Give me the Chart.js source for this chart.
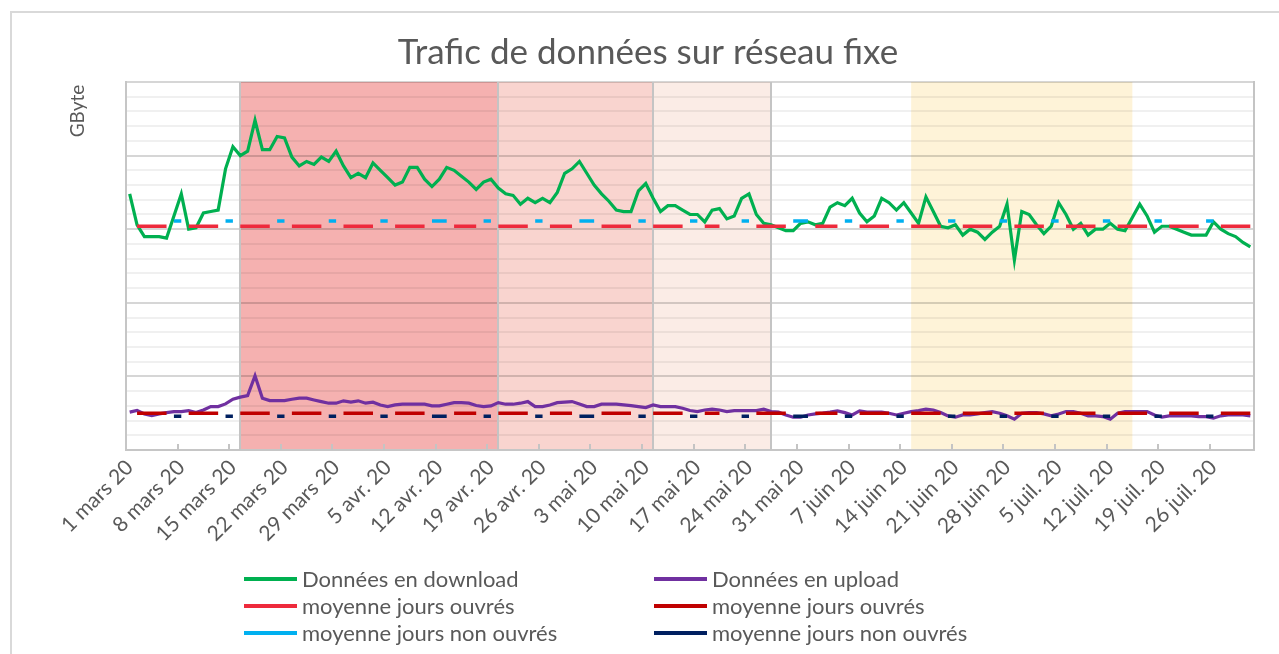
<!DOCTYPE html>
<html lang="fr">
<head>
<meta charset="utf-8">
<title>Trafic de données sur réseau fixe</title>
<script src="https://cdn.jsdelivr.net/npm/chart.js@4.4.0/dist/chart.umd.min.js"></script>
<style>
  html, body { margin: 0; padding: 0; background: #fff; }
</style>
</head>
<body>
<canvas id="chart" width="1279" height="654"></canvas>
<script>
const FONT = 'Lato, "Open Sans", sans-serif';
const TEXT = '#595959';

// months covered, 1 mars -> 31 juil. 2020
const monthNames = ['mars', 'avr.', 'mai', 'juin', 'juil.'];
const monthDays = [31, 30, 31, 30, 31];

// daily traffic (arbitrary units, axis has no labels)
const download = [
  174, 153, 145, 145, 145, 144, 159, 174, 150, 151, 161, 162, 163, 191, 206, 200, 203, 224, 204, 204,
  213, 212, 199, 193, 196, 194, 199, 196, 203, 193, 185, 188, 185, 195, 190, 185, 180, 182, 192, 192,
  184, 179, 184, 192, 190, 186, 182, 177, 182, 184, 178, 174, 173, 167, 171, 168, 171, 168, 175, 188,
  191, 196, 188, 180, 174, 169, 163, 162, 162, 176, 181, 171, 162, 166, 166, 163, 160, 160, 155, 163,
  164, 157, 159, 171, 174, 160, 154, 153, 151, 149, 149, 154, 155, 153, 154, 165, 168, 166, 171, 161,
  155, 159, 171, 168, 163, 168, 161, 154, 172, 162, 152, 151, 153, 146, 150, 148, 143, 148, 152, 167,
  129, 162, 160, 153, 147, 152, 168, 160, 150, 154, 146, 150, 150, 154, 150, 149, 158, 167, 159, 148,
  152, 152, 150, 148, 146, 146, 146, 155, 150, 147, 145, 141, 138
];
const upload = [
  25.7, 26.8, 24.5, 23.4, 24.5, 25.4, 26.1, 26.1, 26.8, 25.4, 27.2, 29.5, 29.5, 31.3, 34.5, 35.9, 37.0, 50.4, 35.2, 33.6,
  33.6, 33.6, 34.5, 35.2, 35.2, 34.0, 32.9, 31.8, 31.8, 33.4, 32.5, 33.4, 31.8, 32.5, 30.6, 29.5, 30.6, 31.1, 31.1, 31.1,
  31.1, 30.0, 30.0, 31.1, 32.2, 32.2, 31.8, 30.2, 29.5, 30.0, 32.2, 31.1, 31.1, 31.8, 32.9, 29.5, 29.5, 30.6, 32.2, 32.5,
  32.9, 31.3, 29.5, 29.5, 31.1, 31.1, 31.1, 30.6, 30.2, 29.5, 28.8, 30.6, 29.5, 29.5, 29.5, 28.4, 26.8, 26.1, 27.2, 27.7,
  27.2, 26.1, 26.8, 26.8, 26.8, 26.8, 27.7, 26.1, 25.7, 23.8, 22.3, 22.3, 23.8, 24.5, 25.0, 25.7, 26.6, 25.4, 23.8, 26.6,
  25.7, 25.7, 25.7, 25.0, 23.8, 25.0, 26.1, 26.8, 27.7, 27.2, 25.4, 23.2, 22.3, 23.8, 23.8, 24.5, 25.4, 26.1, 25.0, 23.2,
  20.9, 25.0, 25.4, 25.4, 24.5, 23.2, 24.5, 26.1, 26.1, 25.0, 23.2, 23.2, 22.7, 20.9, 25.0, 26.1, 26.1, 26.1, 26.1, 23.8,
  22.3, 23.2, 23.2, 23.2, 23.2, 22.7, 22.7, 21.6, 23.2, 23.8, 23.8, 23.8, 23.2
];

// W = jour ouvré, N = jour non ouvré (one week per string, starting on Sunday 1 mars)
const dayType = [
  'NWWWWWN', 'NWWWWWN', 'NWWWWWN', 'NWWWWWN', 'NWWWWWN', 'NWWWWWN', 'NNWWWWN', 'NWWWWWN',
  'NWWWWNN', 'NWWWWWN', 'NWWWWWN', 'NWWWNWN', 'NWWWWWN', 'NNWWWWN', 'NWWWWWN', 'NWWWWWN',
  'NWWWWWN', 'NWWWWWN', 'NWWWWWN', 'NWWWWWN', 'NWWWWWN', 'NWWWWW'
].join('');

const avgDownWork = 152;
const avgDownOff = 155.5;
const avgUpWork = 25;
const avgUpOff = 23;

// shaded periods: [first day index, last day index, colour, border line]
const periods = [
  [15, 50, '#f5b1b0', true],
  [50, 71, '#f9d4cf', true],
  [71, 87, '#fbece6', true],
  [106, 136, '#fef3d8', false]
];

const labels = [];
monthNames.forEach((m, k) => {
  for (let d = 1; d <= monthDays[k]; d++) labels.push(d + ' ' + m + ' 20');
});

const pick = (type, value) => dayType.split('').map(t => (t === type ? value : null));

const legendRows = [[0, 1], [2, 3], [4, 5]];

const framePlugin = {
  id: 'frame',
  beforeDraw(chart) {
    const { ctx, chartArea, scales } = chart;
    ctx.save();
    ctx.fillStyle = '#fff';
    ctx.fillRect(0, 0, chart.width, chart.height);
    ctx.strokeStyle = '#d9d9d9';
    ctx.lineWidth = 2;
    ctx.strokeRect(11, 12, chart.width + 20, chart.height + 20);
    periods.forEach(([a, b, color]) => {
      const x0 = scales.x.getPixelForValue(a);
      const x1 = scales.x.getPixelForValue(b);
      ctx.fillStyle = color;
      ctx.fillRect(x0, chartArea.top, x1 - x0, chartArea.bottom - chartArea.top);
    });
    ctx.restore();
  },
  beforeDatasetsDraw(chart) {
    const { ctx, chartArea, scales } = chart;
    const x = scales.x;
    ctx.save();
    ctx.strokeStyle = '#c4c4c4';
    ctx.lineWidth = 2;
    periods.forEach(([a, b, , border]) => {
      if (!border) return;
      [a, b].forEach(i => {
        const px = Math.round(x.getPixelForValue(i));
        ctx.beginPath();
        ctx.moveTo(px, chartArea.top);
        ctx.lineTo(px, chartArea.bottom);
        ctx.stroke();
      });
    });
    // right edge of plot
    ctx.beginPath();
    ctx.moveTo(chartArea.right, chartArea.top - 1);
    ctx.lineTo(chartArea.right, chartArea.bottom);
    ctx.stroke();
    // weekly tick marks inside the plot
    const half = (x.getPixelForValue(1) - x.getPixelForValue(0)) / 2;
    for (let i = 7; i < labels.length; i += 7) {
      const px = Math.round(x.getPixelForValue(i) - half);
      ctx.beginPath();
      ctx.moveTo(px, chartArea.bottom);
      ctx.lineTo(px, chartArea.bottom - 6);
      ctx.stroke();
    }
    ctx.restore();
  },
  afterDraw(chart) {
    const { ctx, chartArea } = chart;
    ctx.save();
    ctx.fillStyle = TEXT;

    // axis title, upper part of the y axis
    ctx.font = '19px ' + FONT;
    ctx.textAlign = 'center';
    ctx.textBaseline = 'middle';
    ctx.translate(78, chartArea.top + 29);
    ctx.rotate(-Math.PI / 2);
    ctx.fillText('GByte', 0, 0);
    ctx.setTransform(1, 0, 0, 1, 0, 0);

    // legend, two columns
    const colX = [244, 654];
    const rowY = [579, 606, 633];
    ctx.font = '22px ' + FONT;
    ctx.textAlign = 'left';
    legendRows.forEach((row, r) => {
      row.forEach((di, c) => {
        const ds = chart.data.datasets[di];
        ctx.strokeStyle = ds.borderColor;
        ctx.lineWidth = 4;
        ctx.beginPath();
        ctx.moveTo(colX[c], rowY[r]);
        ctx.lineTo(colX[c] + 53, rowY[r]);
        ctx.stroke();
        ctx.fillText(ds.label, colX[c] + 58, rowY[r] + 1);
      });
    });
    ctx.restore();
  }
};

const mainLine = (label, data, color) => ({
  label, data, borderColor: color, backgroundColor: color,
  borderWidth: 3.2, pointRadius: 0, tension: 0, order: 2
});
const avgLine = (label, data, color) => ({
  label, data, borderColor: color, backgroundColor: color,
  borderWidth: 3.5, pointRadius: 0, spanGaps: false, borderCapStyle: 'butt', order: 1
});

new Chart(document.getElementById('chart'), {
  type: 'line',
  data: {
    labels,
    datasets: [
      mainLine('Données en download', download, '#00b050'),
      mainLine('Données en upload', upload, '#7030a0'),
      avgLine('moyenne jours ouvrés', pick('W', avgDownWork), '#ee2a3c'),
      avgLine('moyenne jours ouvrés', pick('W', avgUpWork), '#c00000'),
      avgLine('moyenne jours non ouvrés', pick('N', avgDownOff), '#00b0f0'),
      avgLine('moyenne jours non ouvrés', pick('N', avgUpOff), '#002060')
    ]
  },
  options: {
    responsive: false,
    animation: false,
    events: [],
    layout: { padding: { left: 42, right: 25, top: 0, bottom: 104 } },
    plugins: {
      legend: { display: false },
      tooltip: { enabled: false },
      title: {
        display: true,
        text: 'Trafic de données sur réseau fixe',
        color: TEXT,
        font: { family: FONT, size: 35, weight: 'normal' },
        padding: { top: 32, bottom: 8 }
      }
    },
    scales: {
      x: {
        offset: true,
        grid: { display: false, drawTicks: false },
        border: { color: '#c6c6c6', width: 2 },
        afterFit: s => { s.height = 100; },
        ticks: {
          autoSkip: false,
          minRotation: 45,
          maxRotation: 45,
          padding: 5,
          color: TEXT,
          font: { family: FONT, size: 21 },
          callback: (v, i) => (i % 7 === 0 ? labels[i] : null)
        }
      },
      y: {
        min: 0,
        max: 250,
        afterFit: s => { s.width = 84; },
        ticks: { display: false, stepSize: 10 },
        grid: {
          drawTicks: false,
          lineWidth: 2,
          color: c => (c.tick.value % 50 === 0 ? 'rgba(0,0,0,0.16)' : 'rgba(0,0,0,0.06)')
        },
        border: { color: '#c6c6c6', width: 2 }
      }
    }
  },
  plugins: [framePlugin]
});
</script>
</body>
</html>
